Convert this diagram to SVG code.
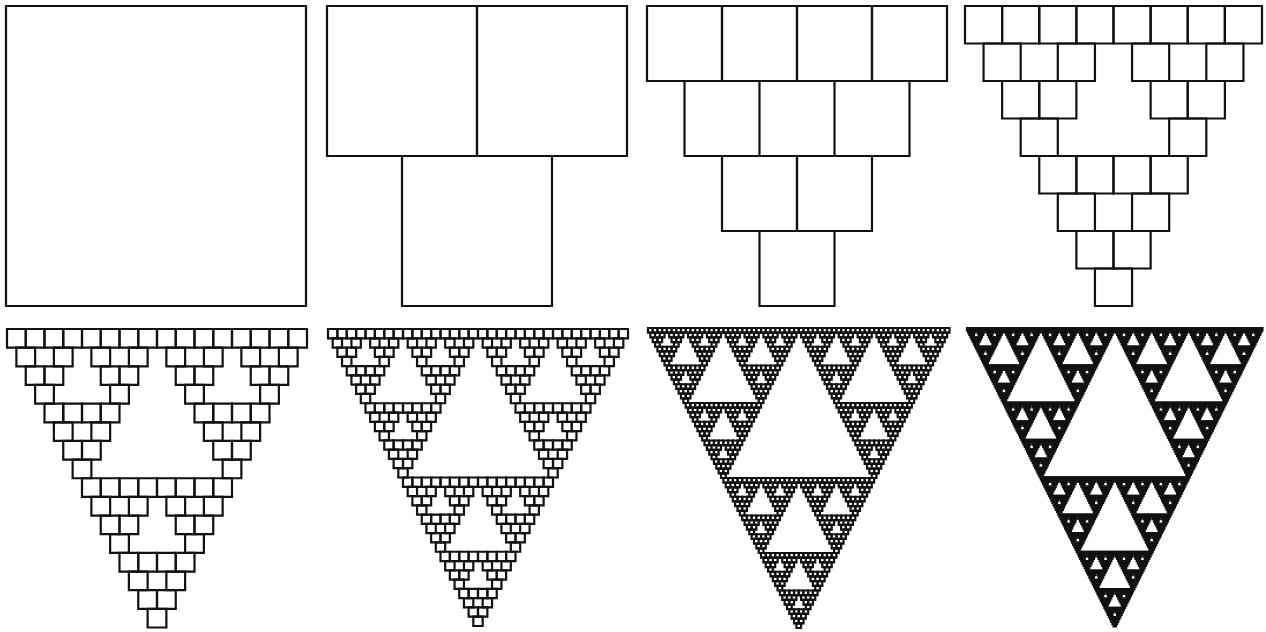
<svg xmlns="http://www.w3.org/2000/svg" xmlns:xlink="http://www.w3.org/1999/xlink" width="1266" height="632" viewBox="0 0 1266 632">
<style>
.sq{fill:none;stroke:#111;stroke-width:2.2;vector-effect:non-scaling-stroke}
#panel6 .sq{stroke-width:1.8}
#panel7 .sq{stroke-width:1.3}
#panel8 .sq{stroke-width:1.0;stroke:#1a1a1a}
</style>
<defs>
<rect id="L0" class="sq" x="0" y="0" width="300" height="300"/>
<g id="L1"><use href="#L0" transform="scale(0.5)"/><use href="#L0" transform="translate(150,0) scale(0.5)"/><use href="#L0" transform="translate(75,150) scale(0.5)"/></g>
<g id="L2"><use href="#L1" transform="scale(0.5)"/><use href="#L1" transform="translate(150,0) scale(0.5)"/><use href="#L1" transform="translate(75,150) scale(0.5)"/></g>
<g id="L3"><use href="#L2" transform="scale(0.5)"/><use href="#L2" transform="translate(150,0) scale(0.5)"/><use href="#L2" transform="translate(75,150) scale(0.5)"/></g>
<g id="L4"><use href="#L3" transform="scale(0.5)"/><use href="#L3" transform="translate(150,0) scale(0.5)"/><use href="#L3" transform="translate(75,150) scale(0.5)"/></g>
<g id="L5"><use href="#L4" transform="scale(0.5)"/><use href="#L4" transform="translate(150,0) scale(0.5)"/><use href="#L4" transform="translate(75,150) scale(0.5)"/></g>
<g id="L6"><use href="#L5" transform="scale(0.5)"/><use href="#L5" transform="translate(150,0) scale(0.5)"/><use href="#L5" transform="translate(75,150) scale(0.5)"/></g>
<g id="L7"><use href="#L6" transform="scale(0.5)"/><use href="#L6" transform="translate(150,0) scale(0.5)"/><use href="#L6" transform="translate(75,150) scale(0.5)"/></g>
</defs>
<rect width="1266" height="632" fill="#fff"/>
<g id="panel1" transform="translate(6,6)"><use href="#L0"/></g>
<g id="panel2" transform="translate(327,6)"><use href="#L1"/></g>
<g id="panel3" transform="translate(647,6)"><use href="#L2"/></g>
<g id="panel4" transform="translate(965,6) scale(0.99,1)"><use href="#L3"/></g>
<g id="panel5" transform="translate(7,329) scale(1,0.995)"><use href="#L4"/></g>
<g id="panel6" transform="translate(328,329) scale(1,0.99)"><use href="#L5"/></g>
<g id="panel7" transform="translate(648,328) scale(1.005,1)"><use href="#L6"/></g>
<g id="panel8" transform="translate(967,328) scale(0.985,0.995)"><use href="#L7"/></g>
</svg>
